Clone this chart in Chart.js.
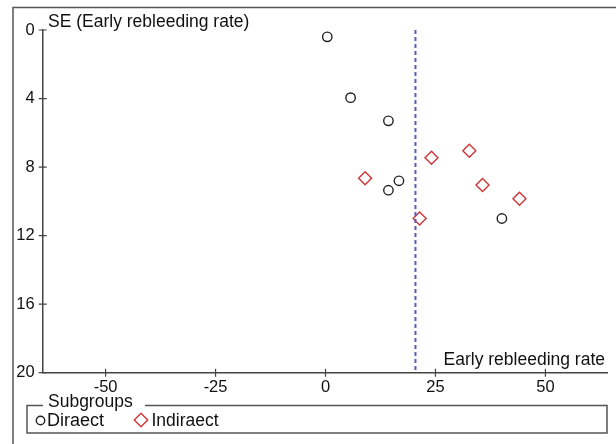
<!DOCTYPE html>
<html>
<head>
<meta charset="utf-8">
<script src="https://cdn.jsdelivr.net/npm/chart.js@4"></script>
<style>
  html, body { margin: 0; padding: 0; background: #fff; }
  canvas { display: block; }
</style>
</head>
<body>
<canvas id="funnel" width="616" height="444"></canvas>
<script>
// tick labels
const xTicks = [-50, -25, 0, 25, 50];
const yTicks = [0, 4, 8, 12, 16, 20];

// Direct subgroup: effect and SE
const directRate = [0.4, 5.7, 14.3, 16.7, 14.3, 40.1];
const directSE = [0.4, 3.95, 5.3, 8.8, 9.35, 11.0];

// Indirect subgroup
const indirectRate = [9.0, 24.1, 32.7, 35.7, 44.1, 21.4];
const indirectSE = [8.65, 7.45, 7.05, 9.05, 9.85, 11.0];

// pooled estimate (dashed line)
const pooled = 20.45;

const FONT = "'Liberation Sans', Arial, sans-serif";

const toPoints = (xs, ys) => xs.map((x, i) => ({ x: x, y: ys[i] }));

// frame, axis titles, legend box
const decorations = {
    id: "decorations",
    afterDraw(chart) {
        const ctx = chart.ctx;
        const xs = chart.scales.x;
        const ys = chart.scales.y;
        ctx.save();

        // outer frame (top + left)
        ctx.strokeStyle = "#555";
        ctx.lineWidth = 1.5;
        ctx.beginPath();
        ctx.moveTo(13, 444);
        ctx.lineTo(13, 7.5);
        ctx.lineTo(616, 7.5);
        ctx.stroke();

        // crossing tick marks
        ctx.strokeStyle = "#444";
        ctx.lineWidth = 1.2;
        ctx.beginPath();
        yTicks.forEach(v => {
            const py = ys.getPixelForValue(v);
            ctx.moveTo(xs.left - 4, py);
            ctx.lineTo(xs.left + 4, py);
        });
        xTicks.forEach(v => {
            const px = xs.getPixelForValue(v);
            ctx.moveTo(px, ys.bottom - 4);
            ctx.lineTo(px, ys.bottom + 4);
        });
        ctx.stroke();

        // axis titles
        ctx.fillStyle = "#111";
        ctx.font = "17.5px " + FONT;
        ctx.textBaseline = "alphabetic";
        ctx.textAlign = "left";
        ctx.fillText("SE (Early rebleeding rate)", 48, 27);
        ctx.textAlign = "right";
        ctx.fillText("Early rebleeding rate", 605, 365);

        // legend box with title in the border
        const L = 27, R = 607, T = 405.5, B = 433;
        ctx.strokeStyle = "#555";
        ctx.lineWidth = 1.5;
        ctx.beginPath();
        ctx.moveTo(43, T);
        ctx.lineTo(L, T);
        ctx.lineTo(L, B);
        ctx.lineTo(R, B);
        ctx.lineTo(R, T);
        ctx.lineTo(145, T);
        ctx.stroke();

        ctx.textAlign = "left";
        ctx.textBaseline = "middle";
        ctx.fillText("Subgroups", 48, 402);

        // legend markers
        ctx.strokeStyle = "#222";
        ctx.lineWidth = 1.4;
        ctx.beginPath();
        ctx.arc(40.5, 420.5, 4.2, 0, Math.PI * 2);
        ctx.stroke();
        ctx.font = "18px " + FONT;
        ctx.fillText("Diraect", 47, 421);

        ctx.strokeStyle = "#d03535";
        ctx.beginPath();
        ctx.moveTo(141, 413.3);
        ctx.lineTo(147.7, 420);
        ctx.lineTo(141, 426.7);
        ctx.lineTo(134.3, 420);
        ctx.closePath();
        ctx.stroke();
        ctx.font = "17.5px " + FONT;
        ctx.fillStyle = "#111";
        ctx.fillText("Indiraect", 151.5, 421);

        ctx.restore();
    }
};

new Chart(document.getElementById("funnel"), {
    type: "scatter",
    data: {
        datasets: [
            {
                label: "Pooled",
                data: [{ x: pooled, y: 0 }, { x: pooled, y: 20 }],
                showLine: true,
                borderColor: "#5a5ac0",
                borderWidth: 2,
                borderDash: [4, 3],
                pointRadius: 0
            },
            {
                label: "Diraect",
                data: toPoints(directRate, directSE),
                pointStyle: "circle",
                pointRadius: 4.7,
                borderColor: "#222",
                borderWidth: 1.4,
                backgroundColor: "rgba(0,0,0,0)"
            },
            {
                label: "Indiraect",
                data: toPoints(indirectRate, indirectSE),
                pointStyle: "rectRot",
                pointRadius: 6.5,
                borderColor: "#d03535",
                borderWidth: 1.4,
                backgroundColor: "rgba(0,0,0,0)"
            }
        ]
    },
    options: {
        responsive: false,
        animation: false,
        layout: { padding: { left: 0, top: 30, right: 9, bottom: 0 } },
        plugins: {
            legend: { display: false },
            tooltip: { enabled: false }
        },
        scales: {
            x: {
                type: "linear",
                min: -64.3,
                max: 64,
                afterBuildTicks: scale => { scale.ticks = xTicks.map(v => ({ value: v })); },
                afterFit: scale => { scale.height = 71.3; },
                grid: { display: false, drawTicks: false },
                border: { display: true, color: "#444", width: 1.5 },
                ticks: {
                    padding: 5,
                    color: "#111",
                    font: { family: FONT, size: 16.5 }
                }
            },
            y: {
                type: "linear",
                reverse: true,
                min: 0,
                max: 20,
                afterBuildTicks: scale => { scale.ticks = yTicks.map(v => ({ value: v })); },
                afterFit: scale => { scale.width = 42.7; },
                grid: { display: false, drawTicks: false },
                border: { display: true, color: "#444", width: 1.5 },
                ticks: {
                    padding: 8,
                    color: "#111",
                    font: { family: FONT, size: 16.5 }
                }
            }
        }
    },
    plugins: [decorations]
});
</script>
</body>
</html>
